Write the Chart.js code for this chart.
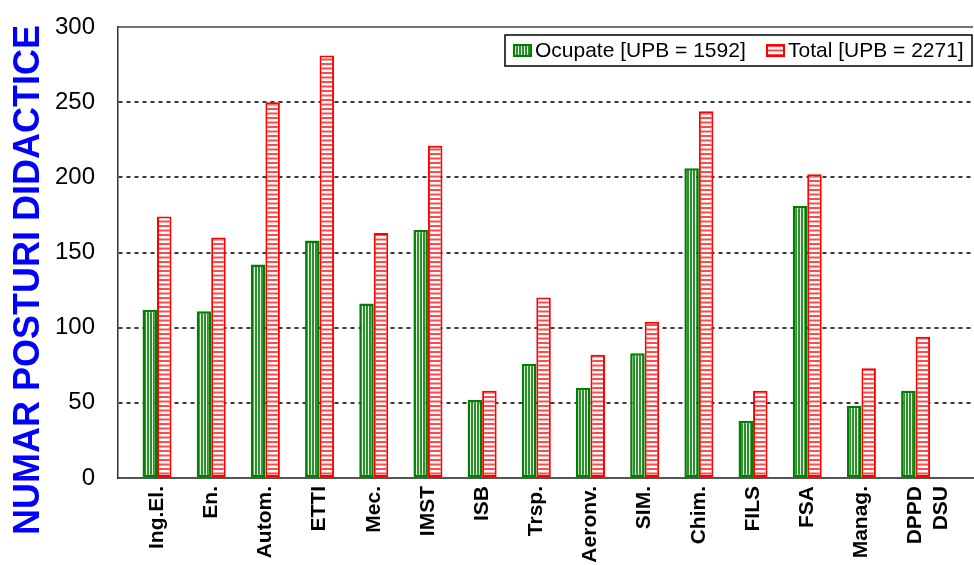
<!DOCTYPE html>
<html>
<head>
<meta charset="utf-8">
<script src="https://cdn.jsdelivr.net/npm/chart.js@4/dist/chart.umd.min.js"></script>
<style>
body { margin: 0; background: #fff; }
#canva1 { display: block; }
</style>
</head>
<body>
<canvas id="canva1" width="974" height="565"></canvas>
<script>
// date
var categorii = ["Ing.El.", "En.", "Autom.", "ETTI", "Mec.", "IMST", "ISB", "Trsp.", "Aeronv.", "SIM.", "Chim.", "FILS", "FSA", "Manag.", ["DPPD", "DSU"]]
var ocupate = [112, 111, 142, 158, 116, 165, 52, 76, 60, 83, 206, 38, 181, 48, 58]
var total = [174, 160, 250, 281, 163, 221, 58, 120, 82, 104, 244, 58, 202, 73, 94]
var yTicks = [0, 50, 100, 150, 200, 250, 300]
var etichete = ["Ocupate [UPB = 1592]", "Total [UPB = 2271]"]
var titluY = "NUMAR POSTURI DIDACTICE"

var font = "'Liberation Sans', Arial, sans-serif"

// hasura verde (verticala) si rosie (orizontala)
function hasuraVerde(){
var c = document.createElement("canvas")
c.width = 3; c.height = 3
var x = c.getContext("2d")
x.fillStyle = "#2f8f2f"
x.fillRect(0, 0, 3, 3)
x.fillStyle = "#e6f3e6"
x.fillRect(2, 0, 1, 3)
return x.createPattern(c, "repeat")
}
function hasuraRosie(){
var c = document.createElement("canvas")
c.width = 4; c.height = 9
var x = c.getContext("2d")
x.fillStyle = "#ffffff"
x.fillRect(0, 0, 4, 9)
x.fillStyle = "#ff4a4a"
x.fillRect(0, 0, 4, 2)
x.fillRect(0, 4.5, 4, 2)
return x.createPattern(c, "repeat")
}

function puncte(valori){
var d = []
for(var i = 0; i < valori.length; i++){
d.push({x: i, y: valori[i]})
}
return d
}

// titlu axa Y, chenar sus si legenda cu chenar
var desenExtra = {
id: "desenExtra",
beforeDatasetsDraw: function(chart){
var ctx = chart.ctx, a = chart.chartArea
ctx.save()
ctx.strokeStyle = "#444"
ctx.lineWidth = 1.5
ctx.beginPath()
ctx.moveTo(a.left, a.top)
ctx.lineTo(a.right, a.top)
ctx.stroke()
ctx.restore()
},
afterDraw: function(chart){
var ctx = chart.ctx
ctx.save()
ctx.translate(39, 280)
ctx.rotate(-Math.PI / 2)
ctx.font = "bold 36px " + font
ctx.fillStyle = "#0000ff"
ctx.textAlign = "center"
ctx.textBaseline = "alphabetic"
ctx.fillText(titluY, 0, 0)
ctx.restore()

// legenda
ctx.save()
ctx.fillStyle = "#fff"
ctx.fillRect(505, 35, 467, 31)
ctx.strokeStyle = "#000"
ctx.lineWidth = 1.5
ctx.strokeRect(505, 35, 467, 31)
var ds = chart.data.datasets
var pozX = [513, 766]
ctx.font = "21px " + font
ctx.textBaseline = "middle"
ctx.textAlign = "left"
for(var i = 0; i < ds.length; i++){
ctx.fillStyle = ds[i].backgroundColor
ctx.fillRect(pozX[i], 44, 19, 13)
ctx.strokeStyle = ds[i].borderColor
ctx.lineWidth = 2
ctx.strokeRect(pozX[i] + 1, 45, 17, 11)
ctx.fillStyle = "#000"
ctx.fillText(ds[i].label, pozX[i] + 22, 51)
}
ctx.restore()
}
}

const config = {
type: "bar",
data: {
datasets: [{
label: etichete[0],
data: puncte(ocupate),
backgroundColor: hasuraVerde(),
borderColor: "#008000",
borderWidth: 2.5,
borderSkipped: false
}, {
label: etichete[1],
data: puncte(total),
backgroundColor: hasuraRosie(),
borderColor: "#ff0000",
borderWidth: 2,
borderSkipped: false
}]
},
options: {
responsive: false,
animation: false,
layout: {padding: {left: 52, top: 27, right: 0, bottom: 0}},
datasets: {bar: {categoryPercentage: 0.535, barPercentage: 1}},
plugins: {
legend: {display: false},
tooltip: {enabled: false}
},
scales: {
x: {
type: "linear",
offset: false,
min: -0.72,
max: 15.06,
afterBuildTicks: function(scale){
scale.ticks = categorii.map(function(c, i){ return {value: i} })
},
afterFit: function(scale){ scale.height = 87 },
grid: {display: false, drawTicks: false},
border: {display: true, color: "#555", width: 2},
ticks: {
autoSkip: false,
minRotation: 90,
maxRotation: 90,
padding: 8,
color: "#000",
font: {family: font, size: 21, weight: "bold"},
callback: function(v){ return categorii[v] }
}
},
y: {
min: 0,
max: 300,
afterBuildTicks: function(scale){
scale.ticks = yTicks.map(function(v){ return {value: v} })
},
afterFit: function(scale){ scale.width = 66 },
grid: {
drawTicks: true,
tickLength: 20,
tickColor: "rgba(0,0,0,0)",
lineWidth: 2,
color: function(c){
if(c.tick && (c.tick.value === 0 || c.tick.value === 300)) return "rgba(0,0,0,0)"
return "#3a3a3a"
}
},
border: {display: true, color: "#333", width: 1.5, dash: [4, 4]},
ticks: {
padding: 3,
color: "#000",
font: {family: font, size: 24}
}
}
}
},
plugins: [desenExtra]
}

const ctx = document.getElementById("canva1").getContext("2d")
window.chart = new Chart(ctx, config)
</script>
</body>
</html>
